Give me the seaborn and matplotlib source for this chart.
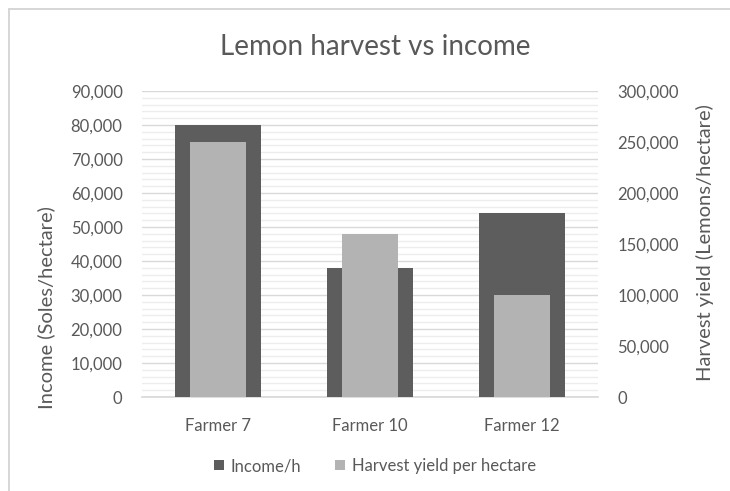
import matplotlib
matplotlib.use("Agg")
import matplotlib.pyplot as plt
from matplotlib.lines import Line2D
from matplotlib.patches import Patch
from matplotlib.ticker import MultipleLocator, FuncFormatter
import seaborn as sns
import pandas as pd

farmers = ["Farmer 7", "Farmer 10", "Farmer 12"]
income_per_ha = [80000, 38000, 54000]
harvest_per_ha = [250000, 160000, 100000]

sns.set_theme(style="white")
plt.rcParams["font.family"] = ["Lato", "DejaVu Sans"]

TEXT = "#595959"
DARK = "#5d5d5d"
LIGHT = "#b3b3b3"

df = pd.DataFrame({"farmer": farmers, "income": income_per_ha, "harvest": harvest_per_ha})

W, H = 730, 491
fig = plt.figure(figsize=(W / 100, H / 100), dpi=100)
ax = fig.add_axes([142 / W, 94 / H, 456 / W, 306 / H])
ax2 = ax.twinx()

sns.barplot(data=df, x="farmer", y="income", ax=ax, color=DARK, width=0.57,
            saturation=1, edgecolor="none", zorder=3)
sns.barplot(data=df, x="farmer", y="harvest", ax=ax2, color=LIGHT, width=0.366,
            saturation=1, edgecolor="none", zorder=3)

ax.set_xlim(-0.5, 2.5)
ax.set_ylim(0, 90000)
ax2.set_ylim(0, 300000)

ax.yaxis.set_major_locator(MultipleLocator(10000))
ax.yaxis.set_minor_locator(MultipleLocator(2000))
ax2.yaxis.set_major_locator(MultipleLocator(50000))
fmt = FuncFormatter(lambda v, p: f"{int(v):,}")
ax.yaxis.set_major_formatter(fmt)
ax2.yaxis.set_major_formatter(fmt)

ax.grid(axis="y", which="major", color="#d9d9d9", linewidth=1.0, zorder=0)
ax.grid(axis="y", which="minor", color="#ededed", linewidth=1.0, zorder=0)
ax.set_axisbelow(True)

for a in (ax, ax2):
    for s in a.spines.values():
        s.set_visible(False)
    a.tick_params(axis="both", which="both", length=0, colors=TEXT, labelsize=12)
    a.set_xlabel("")
    a.set_ylabel("")
ax.spines["bottom"].set_visible(True)
ax.spines["bottom"].set_color("#d9d9d9")
ax.tick_params(axis="y", pad=14)
ax2.tick_params(axis="y", pad=14)
ax.tick_params(axis="x", pad=15)

# axis titles
fig.text(46 / W, 1 - 308 / H, "Income (Soles/hectare)", rotation=90, ha="center",
         va="center", fontsize=14.5, color=TEXT)
fig.text(705 / W, 1 - 243 / H, "Harvest yield (Lemons/hectare)", rotation=90, ha="center",
         va="center", fontsize=14.5, color=TEXT)

fig.text(375 / W, 1 - 47 / H, "Lemon harvest vs income", ha="center", va="center",
         fontsize=20, color=TEXT)

handles = [Patch(facecolor=DARK, edgecolor="none"), Patch(facecolor=LIGHT, edgecolor="none")]
fig.legend(handles, ["Income/h", "Harvest yield per hectare"], loc="center",
           bbox_to_anchor=(375 / W, 1 - 466 / H), ncol=2, frameon=False,
           fontsize=12, labelcolor=TEXT, handlelength=0.6, handleheight=0.6,
           handletextpad=0.4, columnspacing=2.0)

# chart frame edges
fig.add_artist(Line2D([8.5 / W, 8.5 / W], [0, 1 - 9 / H], transform=fig.transFigure,
                      color="#d0d0d0", linewidth=1.2))
fig.add_artist(Line2D([8.5 / W, 1], [1 - 9 / H, 1 - 9 / H], transform=fig.transFigure,
                      color="#d0d0d0", linewidth=1.2))

fig.savefig("out.png", dpi=100, facecolor="white")
